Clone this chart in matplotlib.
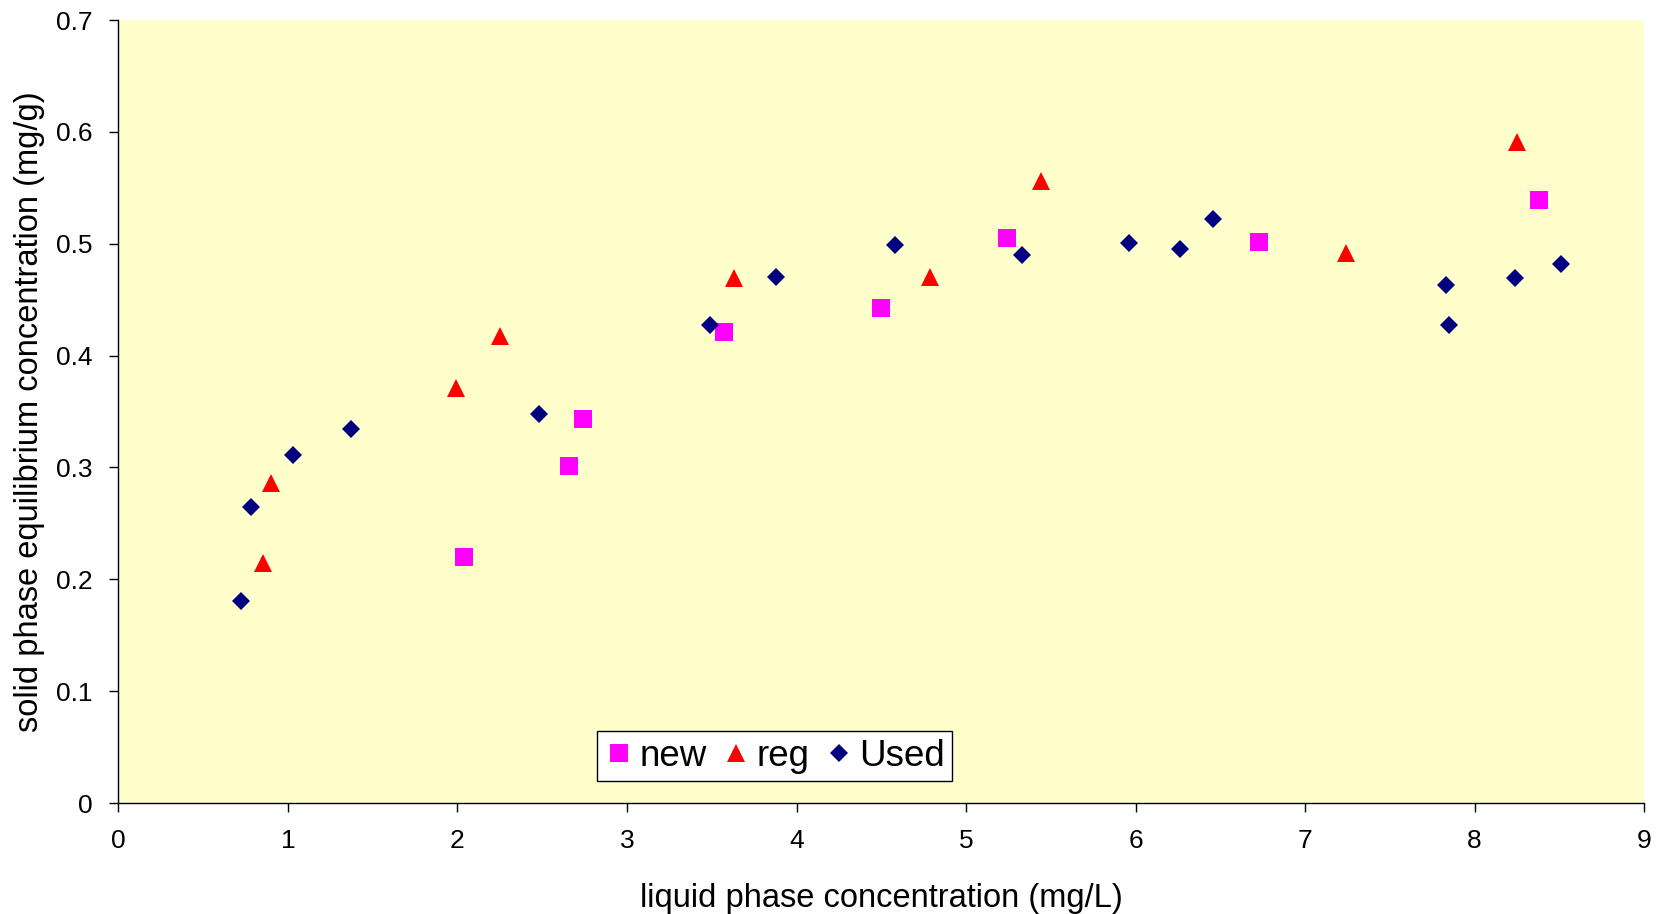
import matplotlib
matplotlib.use("Agg")
import matplotlib.pyplot as plt

plt.rcParams['font.family'] = ['Liberation Sans', 'DejaVu Sans']

# liquid phase (mg/L), solid phase (mg/g)
new_x = [2.04, 2.66, 2.74, 3.57, 4.50, 5.24, 6.73, 8.38]
new_y = [0.220, 0.301, 0.343, 0.421, 0.443, 0.505, 0.502, 0.539]

reg_x = [0.85, 0.90, 1.99, 2.25, 3.63, 4.79, 5.44, 7.24, 8.25]
reg_y = [0.215, 0.286, 0.371, 0.418, 0.469, 0.470, 0.556, 0.492, 0.591]

used_x = [0.72, 0.78, 1.03, 1.37, 2.48, 3.49, 3.88, 4.58, 5.33, 5.96, 6.26, 6.46,
          7.83, 7.85, 8.24, 8.51]
used_y = [0.181, 0.265, 0.311, 0.334, 0.348, 0.427, 0.470, 0.499, 0.490, 0.501,
          0.495, 0.522, 0.463, 0.427, 0.469, 0.482]

fig = plt.figure(figsize=(16.64, 9.14), dpi=100)
ax = fig.add_axes([0.0712, 0.1214, 0.9168, 0.8566])
ax.set_facecolor('#FFFFCC')

ax.plot(new_x, new_y, linestyle='none', marker='s', markersize=12.5,
        color='#FF00FF', markeredgewidth=0, label='new')
ax.plot(reg_x, reg_y, linestyle='none', marker='^', markersize=13,
        color='#FF0000', markeredgewidth=0, label='reg')
ax.plot(used_x, used_y, linestyle='none', marker='D', markersize=9.2,
        color='#000080', markeredgewidth=0, label='Used')

ax.set_xlim(0, 9)
ax.set_ylim(0, 0.7)
ax.set_xticks(range(0, 10))
ax.set_yticks([0, 0.1, 0.2, 0.3, 0.4, 0.5, 0.6, 0.7])
ax.set_yticklabels(['0', '0.1', '0.2', '0.3', '0.4', '0.5', '0.6', '0.7'])
ax.tick_params(direction='out', length=6.5, width=1, labelsize=19, pad=12)

for s in ['top', 'right']:
    ax.spines[s].set_visible(False)
for s in ['left', 'bottom']:
    ax.spines[s].set_color('black')
    ax.spines[s].set_linewidth(1)

ax.set_xlabel('liquid phase concentration (mg/L)', fontsize=23.5, labelpad=22)
ax.set_ylabel('solid phase equilibrium concentration (mg/g)', fontsize=23.5, labelpad=8)

leg = ax.legend(loc='lower left', bbox_to_anchor=(0.3137, 0.028), borderaxespad=0,
                ncol=3, fontsize=26.5, frameon=True, fancybox=False,
                handlelength=0.8, handletextpad=0.15, columnspacing=0.4,
                borderpad=0.2, markerscale=1.05)
leg.get_frame().set_edgecolor('black')
leg.get_frame().set_linewidth(1)
leg.get_frame().set_facecolor('white')
leg.get_frame().set_alpha(1)

fig.savefig('out.png', dpi=100)
